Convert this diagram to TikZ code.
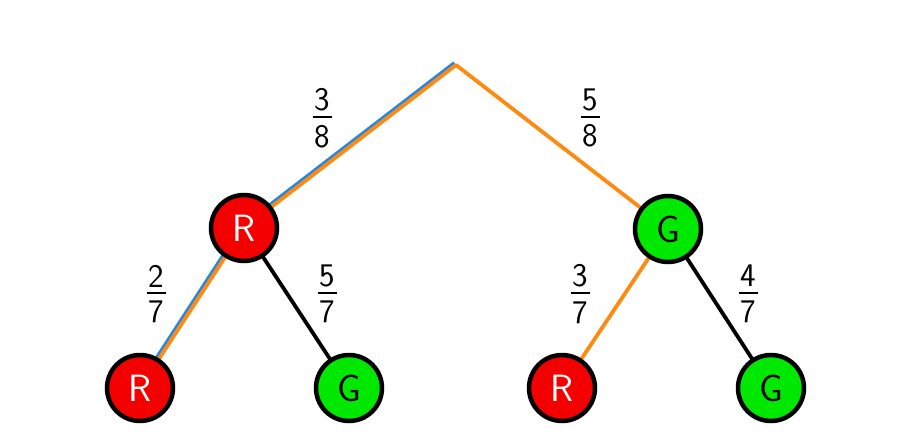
\documentclass[tikz,border=0pt]{standalone}
\usetikzlibrary{backgrounds}
\definecolor{nred}{HTML}{F50000}
\definecolor{ngreen}{HTML}{00E800}
\definecolor{eorange}{HTML}{FF8A12}
\definecolor{eblue}{HTML}{2288E8}
\newcommand\pfrac[2]{\vbox{\hbox to 19pt{\hss#1\hss}\kern5pt\hrule height 2pt\kern7pt\hbox to 19pt{\hss#2\hss}}}
\begin{document}
\begin{tikzpicture}[x=1pt,y=-1pt,
  ball/.style={circle,draw=black,line width=4.5pt,minimum size=66pt,inner sep=0pt,
    font=\sffamily\fontsize{38}{40}\selectfont},
  rball/.style={ball,fill=nred,text=white},
  gball/.style={ball,fill=ngreen,text=black},
  edge/.style={line width=3.8pt},
  prob/.style={font=\sffamily\fontsize{33}{36}\selectfont,inner sep=0pt}]
\useasboundingbox (0,0) rectangle (911,447);
\coordinate (top) at (456,65);
\node[rball] (R1) at (244,228) {R};
\node[gball] (G1) at (668,229) {G};
\node[rball] (RR) at (140,388) {R};
\node[gball] (RG) at (349,388) {G};
\node[rball] (GR) at (562,388) {R};
\node[gball] (GG) at (771,388) {G};
\begin{scope}[on background layer]
\draw[edge,eblue,transform canvas={shift={(-1.5pt,2pt)}}] (top) -- (R1.center);
\draw[edge,eorange] (top) -- (R1.center);
\draw[edge,eorange,line cap=round] (top) -- (G1.center);
\draw[edge,eblue,transform canvas={shift={(-2pt,1.4pt)}}] (R1.center) -- (RR.center);
\draw[edge,eorange] (R1.center) -- (RR.center);
\draw[edge,black] (R1.center) -- (RG.center);
\draw[edge,eorange] (G1.center) -- (GR.center);
\draw[edge,black] (G1.center) -- (GG.center);
\end{scope}
\node[prob] (p38) at (322,118) {\pfrac{3}{8}};
\node[prob] (p58) at (590,118) {\pfrac{5}{8}};
\node[prob] (p27) at (156,294) {\pfrac{2}{7}};
\node[prob] (p57) at (327,294) {\pfrac{5}{7}};
\node[prob] (p37) at (580,294) {\pfrac{3}{7}};
\node[prob] (p47) at (748,294) {\pfrac{4}{7}};
\end{tikzpicture}
\end{document}
